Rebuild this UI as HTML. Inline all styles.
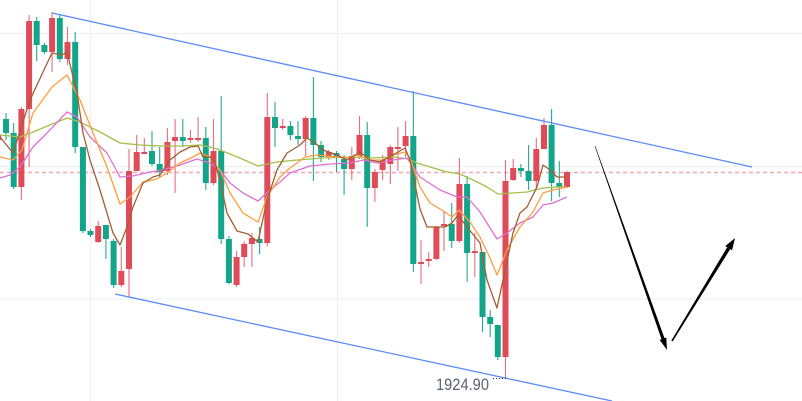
<!DOCTYPE html>
<html><head><meta charset="utf-8"><style>
html,body{margin:0;padding:0;background:#fff;}
svg{display:block;}
</style></head><body>
<svg width="802" height="401" viewBox="0 0 802 401" xmlns="http://www.w3.org/2000/svg">
<rect width="802" height="401" fill="#ffffff"/>
<g stroke="#eff0f3" stroke-width="1.2">
<path d="M0 33.5H802M0 166.5H802M0 299H802M90.5 0V401M337.5 0V401"/>
</g>
<path d="M0 172.5H802" stroke="#f1a8b3" stroke-width="1.5" stroke-dasharray="4 3"/>
<g stroke="#e5707e" stroke-width="1.1" fill="none">
<path d="M-1.7 130V145M21.4 107V200M29.1 15V167M52.1 12V72M67.5 27V65M98.2 221V243M121.3 247V287M129 149V297M136.7 135V171M144.3 138V154M167.4 128V175M175.1 119V193M190.4 130V143M198.1 117V142M213.5 119V185M236.6 251V287M244.2 241V267M251.9 233V267M267.3 93V246M282.7 119V130M305.7 116V156M328.8 150V160M351.8 147V180M359.5 116V159M374.9 169V202M382.6 155V180M390.3 145V184M397.9 127V171M405.6 121V157M421 240V284M428.7 252V267M436.4 226V260M444 212V251M459.4 158V243M474.8 233V277M505.5 160V378M513.2 159V181M536.3 138V190M544 118V149M567 171V188"/>
</g>
<g stroke="#22aa90" stroke-width="1.1" fill="none">
<path d="M6 113V140M13.7 123V189M36.7 17V61M44.4 43V54M59.8 15V62M75.2 32V153M82.9 147V233M90.5 229V237M105.9 225V259M113.6 239V288M152 131V166M159.7 147V177M182.8 119V147M205.8 127V190M221.2 96V244M228.9 236V284M259.6 227V254M275 102V147M290.4 121V140M298 121V145M313.4 77V181M321.1 141V162M336.5 151V172M344.1 155V195M367.2 122V227M413.3 91V272M451.7 203V248M467.1 176V282M482.5 252V332M490.2 310V337M497.8 325V360M520.9 164V177M528.6 145V190M551.6 109V201M559.3 161V197"/>
</g>
<path fill="#e04b5a" d="M-4.7 135h6v5h-6zM18.4 109h6v78h-6zM26.1 21h6v88h-6zM49.1 18h6v34h-6zM64.5 42h6v17h-6zM95.2 226h6v16h-6zM118.3 271h6v14h-6zM126 171h6v98h-6zM133.7 152h6v19h-6zM141.3 152h6v2h-6zM164.4 142h6v29h-6zM172.1 137h6v4h-6zM187.4 138h6v2h-6zM195.1 138h6v2h-6zM210.5 151h6v32h-6zM233.6 257h6v28h-6zM241.2 244h6v13h-6zM248.9 238h6v6h-6zM264.3 117h6v126h-6zM279.7 126h6v2h-6zM302.7 118h6v21h-6zM325.8 152h6v5h-6zM348.8 156h6v13h-6zM356.5 135h6v21h-6zM371.9 172h6v16h-6zM379.6 160h6v10h-6zM387.3 147h6v17h-6zM394.9 147h6v2h-6zM402.6 136h6v10h-6zM418 262h6v2h-6zM425.7 259h6v2h-6zM433.4 227h6v32h-6zM441 224h6v2h-6zM456.4 184h6v57h-6zM471.8 251h6v2h-6zM502.5 181h6v176h-6zM510.2 168h6v12h-6zM533.3 149h6v32h-6zM541 125h6v24h-6zM564 172h6v15h-6z"/>
<path fill="#13a58a" d="M3 119h6v14h-6zM10.7 133h6v54h-6zM33.7 21h6v24h-6zM41.4 45h6v7h-6zM56.8 18h6v41h-6zM72.2 42h6v105h-6zM79.9 147h6v84h-6zM87.5 231h6v4h-6zM102.9 225h6v14h-6zM110.6 241h6v44h-6zM149 151h6v13h-6zM156.7 164h6v8h-6zM179.8 137h6v4h-6zM202.8 138h6v45h-6zM218.2 151h6v88h-6zM225.9 239h6v44h-6zM256.6 239h6v4h-6zM272 117h6v11h-6zM287.4 126h6v9h-6zM295 136h6v3h-6zM310.4 118h6v27h-6zM318.1 145h6v12h-6zM333.5 153h6v4h-6zM341.1 159h6v10h-6zM364.2 135h6v53h-6zM410.3 136h6v128h-6zM448.7 224h6v17h-6zM464.1 184h6v69h-6zM479.5 252h6v65h-6zM487.2 317h6v7h-6zM494.8 325h6v32h-6zM517.9 168h6v3h-6zM525.6 171h6v10h-6zM548.6 125h6v58h-6zM556.3 183h6v4h-6z"/>
<g fill="none" stroke-width="1.3" stroke-linejoin="round">
<polyline stroke="#a2c04a" points="0,135 20,137 33,132 50,125 67,118 80,122 100,132 120,143 140,145 160,146 180,146 200,145 210,147 220,150 240,158 258,166 277,162 297,160 323,158 350,157 370,158 393,157 408,159 417,163 430,167 447,172 460,174 473,180 487,187 498,194 513,193 527,192 543,188 557,187 567,187"/>
<polyline stroke="#df6fd3" points="0,178 10,175 20,167 33,147 47,133 67,112 77,117 90,137 107,153 120,177 133,176 150,172 163,170 180,165 197,159 210,163 220,170 230,183 243,193 258,201 270,190 280,182 290,173 310,166 330,164 350,163 363,160 377,163 393,160 407,158 420,177 440,190 457,197 467,197 480,212 497,239 507,233 520,223 533,217 543,205 553,203 567,197"/>
<polyline stroke="#ff9d3f" points="0,157 13,160 22,150 33,113 52,87 67,75 80,100 93,133 107,167 120,204 130,197 143,182 157,179 167,173 180,163 193,157 200,153 210,157 220,170 230,193 243,213 258,222 267,197 280,177 290,168 305,157 317,155 337,157 347,158 357,155 370,160 383,160 393,155 405,152 410,158 420,187 430,203 445,212 452,217 459,210 470,222 480,237 490,258 497,275 507,250 520,227 533,212 543,193 553,190 567,187"/>
<polyline stroke="#a35f30" points="0,137 13,153 30,100 43,72 52,53 62,55 67,52 77,93 83,133 90,160 100,190 113,233 120,245 127,227 133,207 143,183 153,177 160,175 170,160 180,152 190,147 198,146 203,157 210,157 215,163 220,180 227,213 237,231 248,234 258,242 267,200 277,170 287,153 300,145 307,138 315,143 323,150 337,155 347,160 360,152 370,160 380,162 393,155 405,148 410,160 420,209 427,227 445,227 452,223 458,215 467,227 480,243 487,280 497,308 503,280 513,233 520,213 527,207 537,187 543,165 550,170 557,177 567,177"/>
</g>
<g stroke="#5b8cfa" stroke-width="1.3">
<line x1="52" y1="13" x2="752" y2="167"/>
<line x1="115" y1="294" x2="612" y2="401"/>
</g>
<path d="M493 378.5H506" stroke="#333" stroke-width="1" stroke-dasharray="1 2"/>
<text x="436" y="390" font-family="'Liberation Sans', sans-serif" font-size="16.5" fill="#5d6272" textLength="53" lengthAdjust="spacingAndGlyphs">1924.90</text>
<g fill="#000">
<polygon points="595.3,146 594.7,146 661.5,339.2 664.5,338.2"/>
<polygon points="667,350 666.3,337.5 659.7,339.9"/>
<polygon points="672.7,341.4 671.3,340.6 727.2,247.3 730.2,249.1"/>
<polygon points="735,238 732.1,250.3 725.3,246.1"/>
</g>
</svg>
</body></html>
